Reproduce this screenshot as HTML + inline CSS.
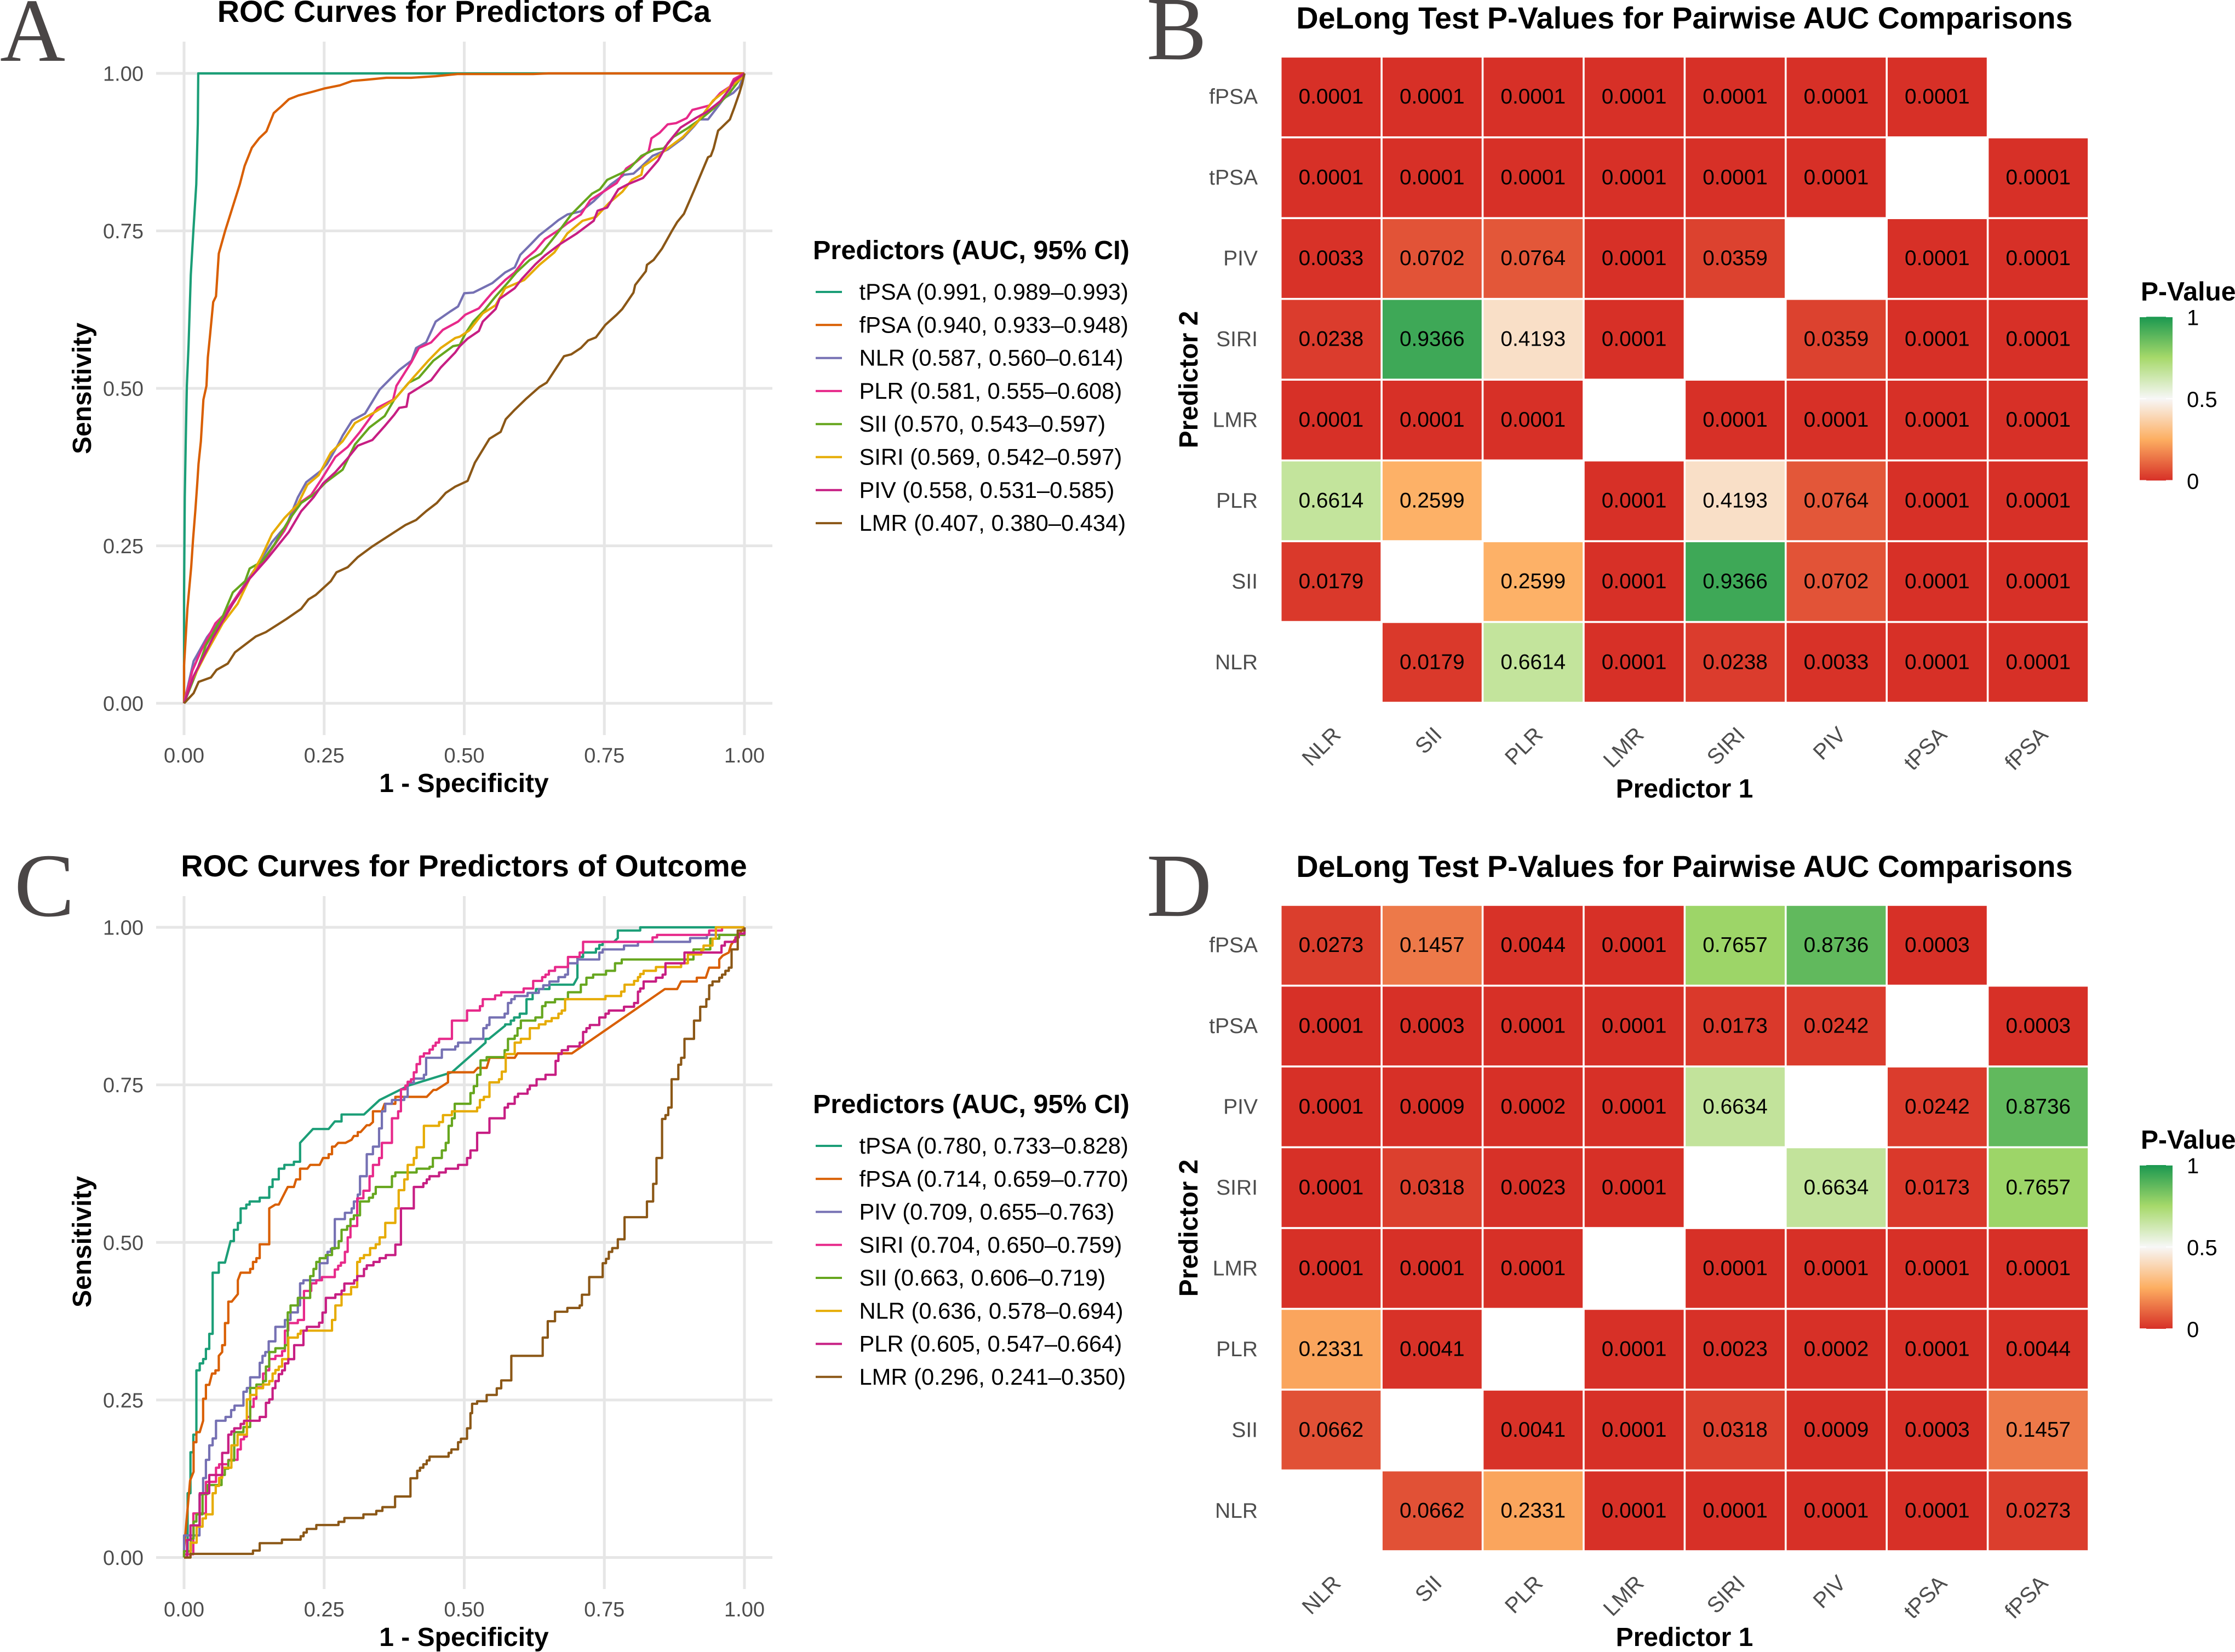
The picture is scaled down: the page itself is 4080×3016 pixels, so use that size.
<!DOCTYPE html>
<html lang="en">
<head>
<meta charset="utf-8">
<title>ROC curves and DeLong test p-values</title>
<style>
html,body{margin:0;padding:0;background:#fff;width:4080px;height:3016px;overflow:hidden}
svg{display:block;font-family:"Liberation Sans",Arial,sans-serif}
.panel-letter{font-family:"Liberation Serif",serif;font-size:165px;fill:#4a4646}
.title{font-weight:700;font-size:55.7px;fill:#000;text-anchor:middle}
.axis-title{font-weight:700;font-size:48px;fill:#000;text-anchor:middle}
.legend-title{font-weight:700;font-size:48.6px;fill:#000}
</style>
</head>
<body>
<svg id="figure" xmlns="http://www.w3.org/2000/svg" width="4080" height="3016" viewBox="0 0 4080 3016">
  <defs>
    <linearGradient id="pGradient" x1="0" y1="1" x2="0" y2="0"></linearGradient>
  </defs>
  <rect x="0" y="0" width="4080" height="3016" fill="#fff"/>

  <text class="panel-letter" x="0" y="111">A</text>
  <text class="panel-letter" x="2093" y="108">B</text>
  <text class="panel-letter" x="26" y="1672">C</text>
  <text class="panel-letter" x="2093" y="1672">D</text>

  <text class="title" x="847" y="40">ROC Curves for Predictors of PCa</text>
  <text class="title" x="847" y="1600">ROC Curves for Predictors of Outcome</text>
  <text class="title" x="3075" y="52">DeLong Test P-Values for Pairwise AUC Comparisons</text>
  <text class="title" x="3075" y="1601">DeLong Test P-Values for Pairwise AUC Comparisons</text>

  <text class="axis-title" x="847" y="1446">1 - Specificity</text>
  <text class="axis-title" x="847" y="3005">1 - Specificity</text>
  <text class="axis-title" transform="translate(166 709) rotate(-90)">Sensitivity</text>
  <text class="axis-title" transform="translate(166 2267) rotate(-90)">Sensitivity</text>

  <text class="axis-title" x="3075" y="1456">Predictor 1</text>
  <text class="axis-title" x="3075" y="3005">Predictor 1</text>
  <text class="axis-title" transform="translate(2186 693) rotate(-90)">Predictor 2</text>
  <text class="axis-title" transform="translate(2186 2242) rotate(-90)">Predictor 2</text>

  <text class="legend-title" x="1484" y="473">Predictors (AUC, 95% CI)</text>
  <text class="legend-title" x="1484" y="2032">Predictors (AUC, 95% CI)</text>

  <g id="layer-a"></g>
  <g id="layer-c"></g>
  <g id="layer-b"></g>
  <g id="layer-d"></g>
</svg>

<script>
/* ---------- shared axis data ---------- */
const rocTicks = [0, 0.25, 0.5, 0.75, 1];
const rocTickLabels = ['0.00', '0.25', '0.50', '0.75', '1.00'];
const lineColors = ['#1B9E77', '#D95F02', '#7570B3', '#E7298A', '#66A61E', '#E6AB02', '#C71E83', '#8B5716'];

/* ---------- Panel A legend ---------- */
const aNames = ['tPSA', 'fPSA', 'NLR', 'PLR', 'SII', 'SIRI', 'PIV', 'LMR'];
const aLabels = ['tPSA (0.991, 0.989–0.993)', 'fPSA (0.940, 0.933–0.948)', 'NLR (0.587, 0.560–0.614)', 'PLR (0.581, 0.555–0.608)', 'SII (0.570, 0.543–0.597)', 'SIRI (0.569, 0.542–0.597)', 'PIV (0.558, 0.531–0.585)', 'LMR (0.407, 0.380–0.434)'];

/* ---------- Panel A series ---------- */
const aTpsaX = [0,0,.0013,.003,.005,.008,.012,.0166,.0218,.0245,.0253,1];
const aTpsaY = [0,.17,.327,.416,.504,.568,.68,.75,.824,.92,1,1];

const aFpsaX = [0,0,.006,.0127,.016,.02,.0236,.0258,.03,.0345,.04,.0424,.0463,.052,.057,.062,.0733,.0864,.0995,.108,.121,.134,.147,.16,.174,.187,.204,.23,.25,.278,.30,.326,.361,.405,.449,.488,.623,.65,1];
const aFpsaY = [0,.06,.15,.216,.26,.305,.349,.38,.416,.482,.504,.549,.584,.637,.646,.714,.75,.787,.824,.853,.882,.897,.908,.937,.948,.959,.965,.971,.976,.981,.988,.99,.993,.993,.9956,.999,.999,1,1];

const aNlrX = [0,.017,.041,.069,.0956,.13,.157,.183,.203,.218,.244,.255,.275,.283,.30,.323,.349,.369,.384,.406,.414,.432,.449,.475,.489,.50,.516,.55,.573,.59,.60,.619,.634,.657,.668,.684,.708,.731,.748,.762,.785,.802,.816,.836,.863,.89,.91,.92,.935,.954,.964,.98,.991,1];
const aNlrY = [0,.067,.105,.138,.172,.218,.256,.283,.327,.351,.369,.38,.411,.425,.449,.46,.498,.516,.529,.544,.564,.573,.606,.622,.63,.651,.652,.667,.684,.692,.712,.729,.743,.759,.767,.776,.781,.797,.812,.824,.839,.841,.852,.869,.879,.897,.916,.927,.927,.949,.961,.969,.979,1];

const aPlrX = [0,.015,.03,.056,.074,.0956,.122,.144,.179,.203,.227,.244,.27,.292,.314,.345,.373,.379,.406,.419,.441,.462,.489,.502,.526,.55,.573,.59,.607,.627,.644,.668,.684,.708,.725,.748,.772,.789,.806,.829,.834,.849,.863,.878,.897,.907,.937,.957,.974,.981,1];
const aPlrY = [0,.052,.083,.127,.143,.172,.205,.229,.274,.316,.331,.354,.391,.407,.431,.469,.482,.504,.542,.564,.573,.593,.606,.617,.627,.652,.672,.684,.704,.719,.737,.751,.762,.776,.799,.812,.826,.849,.859,.876,.897,.906,.919,.921,.929,.942,.949,.969,.979,.991,1];

const aSiiX = [0,.021,.039,.069,.087,.109,.117,.139,.161,.187,.209,.231,.253,.283,.305,.331,.358,.375,.401,.419,.445,.48,.492,.502,.516,.536,.556,.576,.593,.617,.637,.657,.671,.691,.711,.728,.742,.755,.779,.795,.816,.839,.856,.873,.897,.924,.947,.971,.988,1];
const aSiiY = [0,.047,.092,.138,.176,.194,.214,.225,.252,.291,.318,.331,.351,.371,.411,.438,.456,.482,.509,.517,.544,.567,.569,.587,.606,.624,.646,.666,.684,.704,.714,.736,.752,.776,.794,.809,.816,.831,.841,.849,.869,.879,.881,.899,.912,.929,.946,.966,.986,1];

const aSiriX = [0,.013,.039,.069,.0956,.117,.139,.157,.179,.203,.22,.24,.262,.283,.305,.34,.375,.41,.436,.458,.484,.492,.509,.533,.556,.573,.607,.634,.661,.684,.711,.735,.758,.782,.799,.816,.819,.846,.86,.89,.917,.944,.971,.997,1];
const aSiriY = [0,.034,.079,.127,.158,.198,.234,.269,.294,.316,.347,.362,.398,.416,.445,.462,.482,.518,.544,.564,.58,.582,.592,.619,.632,.659,.672,.696,.716,.746,.766,.772,.794,.812,.831,.839,.852,.869,.879,.899,.924,.957,.976,.994,1];

const aPivX = [0,.017,.052,.087,.117,.148,.187,.209,.231,.248,.27,.292,.31,.336,.358,.375,.384,.397,.401,.441,.458,.484,.492,.506,.526,.533,.556,.563,.59,.603,.627,.644,.671,.701,.731,.738,.755,.775,.792,.819,.846,.863,.886,.913,.933,.957,.974,.981,1];
const aPivY = [0,.043,.105,.158,.198,.229,.272,.305,.327,.349,.367,.389,.409,.418,.44,.458,.469,.471,.491,.513,.533,.557,.567,.579,.591,.606,.626,.642,.659,.674,.697,.711,.729,.746,.766,.782,.787,.816,.824,.834,.862,.889,.914,.929,.939,.956,.976,.987,1];

const aLmrX = [0,.017,.026,.048,.058,.078,.091,.128,.146,.183,.209,.222,.235,.262,.272,.292,.31,.336,.395,.414,.432,.451,.467,.484,.506,.519,.545,.565,.574,.589,.611,.634,.647,.678,.691,.708,.721,.735,.752,.772,.782,.802,.805,.824,.826,.838,.853,.87,.88,.892,.91,.935,.94,.945,.953,.959,.974,.982,.991,.996,1];
const aLmrY = [0,.016,.034,.041,.053,.063,.081,.106,.113,.134,.15,.165,.172,.194,.208,.216,.232,.249,.283,.291,.305,.318,.334,.344,.353,.382,.42,.431,.451,.465,.484,.502,.509,.551,.554,.564,.576,.581,.601,.617,.626,.652,.664,.686,.696,.704,.722,.749,.764,.777,.814,.867,.869,.881,.909,.914,.927,.946,.969,.984,1];

/* ---------- Panel C legend ---------- */
const cNames = ['tPSA', 'fPSA', 'PIV', 'SIRI', 'SII', 'NLR', 'PLR', 'LMR'];
const cLabels = ['tPSA (0.780, 0.733–0.828)', 'fPSA (0.714, 0.659–0.770)', 'PIV (0.709, 0.655–0.763)', 'SIRI (0.704, 0.650–0.759)', 'SII (0.663, 0.606–0.719)', 'NLR (0.636, 0.578–0.694)', 'PLR (0.605, 0.547–0.664)', 'LMR (0.296, 0.241–0.350)'];

/* ---------- Panel C series: each point ends a plateau (rise, then run);
   a null entry means the next point is joined by a straight slanted segment ---------- */
const cTpsaX = [0,.0064,.0114,.0165,.022,.028,.034,.039,.045,.051,.057,.062,.073,null,.083,.089,.096,.101,.111,.117,.135,.152,.158,.169,.179,.196,.207,.207,null,.23,.258,null,.269,.281,.292,.321,null,.349,null,.401,null,.478,null,.538,.544,null,.573,.583,.589,.599,.611,.611,.622,.628,.652,.695,null,.702,.702,.712,.735,.741,.747,null,.747,.767,null,.774,.774,.814,1];
const cTpsaY = [0,.005,.102,.167,.195,.297,.308,.315,.331,.355,.452,.452,.468,null,.502,.502,.52,.531,.554,.56,.565,.571,.588,.6,.617,.623,.628,.658,null,.68,.68,null,.692,.692,.703,.703,null,.726,null,.749,null,.77,null,.817,.823,null,.844,.846,.852,.857,.863,.886,.886,.896,.902,.909,null,.92,.953,.953,.96,.966,.972,null,.977,.977,null,.983,.995,.995,1];

const cFpsaX = [0,0,null,.0108,null,.017,.017,.022,.028,null,.034,.039,.045,null,.05,.056,.062,.062,null,.068,.073,.079,.085,null,.096,.096,null,.101,.118,.123,.129,.135,.135,.152,.152,null,.163,.169,null,.185,.196,null,.2,.207,.207,.22,null,.225,.242,null,.248,.258,.264,.264,.269,null,.275,.288,null,.299,null,.303,.31,.315,null,.326,.331,null,.337,.337,.353,null,.358,.377,.39,.433,null,.445,.45,null,.471,.471,.517,null,.524,.54,null,.545,.59,null,.595,.692,null,.858,.88,null,.887,.915,.915,.931,null,.937,.955,.955,null,.961,null,.972,null,.976,null,.984,null,1];
const cFpsaY = [0,.014,null,.122,null,.136,.183,.183,.199,null,.217,.252,.274,null,.292,.292,.297,.32,null,.326,.337,.372,.406,null,.418,.44,null,.452,.452,.458,.469,.475,.497,.497,.554,null,.56,.56,null,.588,.588,null,.6,.6,.617,.617,null,.623,.623,null,.634,.634,.64,.652,.652,null,.658,.658,null,.663,null,.669,.669,.675,null,.686,.686,null,.691,.708,.708,null,.72,.72,.731,.731,null,.742,.742,null,.754,.77,.77,null,.777,.777,null,.792,.793,null,.8,.8,null,.902,.902,null,.914,.914,.92,.92,null,.936,.936,.949,null,.955,null,.96,null,.972,null,.982,null,1];

const cPivX = [0,.0276,.034,.039,.045,.051,.057,.074,.084,.09,.106,.112,.118,.135,.14,.145,.151,.163,.18,.19,.203,.207,.213,.238,.242,.256,.262,.269,.287,.299,.303,.31,.314,.326,.337,.348,.353,.359,.371,.393,.399,.41,.428,.432,.46,.484,.489,.511,.534,.54,.545,.572,.578,.584,.59,.613,.633,.641,.652,.668,.68,.685,.702,.741,.747,.785,.81,.903,.933,1,1];
const cPivY = [0,.035,.10,.126,.155,.178,.189,.217,.223,.234,.241,.263,.269,.286,.309,.32,.326,.343,.366,.377,.389,.4,.435,.44,.44,.467,.485,.49,.537,.547,.554,.565,.576,.605,.64,.652,.681,.708,.72,.726,.731,.753,.76,.766,.793,.806,.811,.817,.823,.84,.845,.857,.863,.88,.886,.891,.896,.902,.908,.914,.921,.925,.943,.949,.96,.965,.971,.977,.983,.988,1];

const cSiriX = [0,.0165,.0165,.039,.057,.0626,.079,.0955,.1013,.107,.112,.118,.124,.129,.141,.146,.152,.163,.175,.18,.186,.203,.214,.227,.236,.246,.269,.275,.28,.287,.292,.297,.309,.309,.32,.331,.337,.348,.353,.371,.382,.387,.395,.399,.405,.41,.415,.421,.428,.438,.444,.449,.455,.478,.505,.528,.533,.555,.566,.606,.623,.639,.645,.651,.662,.685,.706,.712,.836,.844,.937,.96,1];
const cSiriY = [0,.005,.03,.07,.12,.1425,.148,.155,.1715,.1876,.192,.223,.239,.252,.27,.292,.297,.315,.32,.3275,.36,.372,.377,.423,.435,.44,.445,.457,.463,.468,.485,.508,.526,.554,.57,.582,.605,.623,.634,.658,.697,.708,.743,.749,.755,.759,.77,.783,.795,.8,.806,.812,.817,.823,.852,.868,.875,.886,.892,.897,.903,.915,.921,.925,.931,.937,.953,.96,.977,.984,.988,.995,1];

const cSiiX = [0,.012,.017,.022,.033,.042,.067,.0727,.079,.0895,.106,.118,.129,.141,.146,.152,.163,.18,.185,.19,.203,.225,.231,.236,.242,.253,.264,.276,.281,.291,.297,.303,.314,.33,.337,.342,.371,.377,.415,.438,.444,.46,.467,.472,.478,.483,.511,.517,.523,.529,.54,.572,.578,.59,.595,.601,.627,.639,.645,.662,.685,.708,.718,.73,.753,.769,.781,.909,.939,.955,1,1];
const cSiiY = [0,.01,.03,.057,.0685,.1007,.115,.131,.141,.154,.199,.207,.269,.2745,.28,.303,.326,.332,.337,.389,.4,.412,.4466,.458,.469,.475,.48,.491,.502,.52,.526,.537,.543,.565,.571,.577,.588,.605,.611,.617,.62,.634,.646,.658,.685,.697,.72,.737,.748,.766,.789,.794,.805,.823,.828,.84,.852,.857,.875,.881,.886,.897,.909,.92,.925,.931,.943,.949,.965,.982,.988,1];

const cNlrX = [0,.0114,.0225,.033,.039,.051,.0565,.0626,.068,.0845,.0955,.106,.112,.118,.129,.141,.152,.158,.163,.169,.175,.186,.203,.208,.264,.27,.281,.298,.309,.314,.321,.332,.342,.349,.359,.377,.383,.393,.399,.41,.415,.428,.455,.462,.478,.523,.528,.535,.545,.562,.567,.574,.59,.601,.617,.633,.645,.656,.668,.674,.68,.752,.78,.786,.803,.81,.814,.82,.842,.887,.899,.923,.927,.943,.949,1];
const cNlrY = [0,0,.0235,.049,.062,.0685,.102,.1136,.1264,.1425,.178,.195,.195,.251,.258,.2687,.2745,.28,.292,.2976,.303,.3147,.349,.355,.36,.377,.4,.4176,.429,.469,.475,.48,.491,.497,.508,.531,.554,.583,.6,.623,.634,.651,.685,.691,.702,.708,.714,.726,.731,.754,.759,.771,.799,.817,.823,.84,.846,.851,.856,.863,.868,.886,.891,.898,.909,.915,.921,.926,.931,.937,.943,.957,.964,.971,.982,1];

const cPlrX = [0,.0054,.0114,.028,.045,.068,.079,.0845,.0895,.101,.107,.135,.146,.152,.158,.163,.169,.175,.18,.186,.1965,.213,.219,.241,.247,.253,.27,.281,.286,.3035,.309,.321,.326,.338,.349,.36,.377,.387,.41,.427,.433,.438,.455,.467,.489,.505,.511,.523,.545,.572,.578,.59,.596,.613,.617,.629,.645,.663,.668,.674,.685,.706,.712,.718,.724,.741,.752,.758,.785,.803,.81,.814,.82,.842,.854,.859,.893,.959,.965,.984,.99,1,1];
const cPlrY = [0,0,.028,.051,.102,.131,.166,.195,.2,.205,.212,.217,.223,.2455,.251,.2687,.28,.291,.297,.308,.3147,.337,.36,.366,.3726,.3887,.412,.4176,.4234,.4347,.44,.4466,.458,.4636,.469,.475,.48,.4965,.554,.588,.594,.6,.605,.611,.617,.623,.634,.646,.674,.697,.714,.72,.731,.736,.743,.749,.759,.766,.788,.799,.805,.811,.817,.834,.84,.845,.857,.863,.868,.874,.88,.898,.903,.914,.92,.925,.943,.96,.971,.977,.984,.99,1];

const cLmrX = [0,.0114,.123,.135,.1746,.208,.2133,.219,.236,.2756,.286,.32,.343,.354,.3765,.404,.416,.421,.427,.433,.438,.472,.477,.489,.494,.505,.511,.514,.523,.54,.558,.566,.584,.636,.64,.649,.662,.684,.706,.71,.723,.747,.753,.758,.764,.774,.786,.826,.837,.843,.853,.859,.864,.87,.882,.887,.893,.91,.921,.932,.937,.943,.955,.96,.966,.972,.977,.988,1,1];
const cLmrY = [0,0,.0058,.011,.0228,.0283,.0338,.0396,.0454,.0515,.0566,.0627,.0685,.074,.08,.0968,.1258,.1377,.1425,.148,.154,.16,.166,.1715,.183,.1885,.205,.229,.244,.248,.258,.2685,.281,.32,.32,.349,.375,.39,.396,.4,.417,.445,.467,.474,.485,.491,.505,.54,.565,.593,.634,.696,.702,.714,.759,.782,.793,.823,.852,.874,.886,.908,.914,.92,.925,.931,.936,.965,.995,1];

/* ---------- Heatmap categories and p-values (top row to bottom row) ---------- */
const heatColumns = ['NLR', 'SII', 'PLR', 'LMR', 'SIRI', 'PIV', 'tPSA', 'fPSA'];
const heatRows = ['fPSA', 'tPSA', 'PIV', 'SIRI', 'LMR', 'PLR', 'SII', 'NLR'];

const bRowFpsa = [.0001,.0001,.0001,.0001,.0001,.0001,.0001,null];
const bRowTpsa = [.0001,.0001,.0001,.0001,.0001,.0001,null,.0001];
const bRowPiv  = [.0033,.0702,.0764,.0001,.0359,null,.0001,.0001];
const bRowSiri = [.0238,.9366,.4193,.0001,null,.0359,.0001,.0001];
const bRowLmr  = [.0001,.0001,.0001,null,.0001,.0001,.0001,.0001];
const bRowPlr  = [.6614,.2599,null,.0001,.4193,.0764,.0001,.0001];
const bRowSii  = [.0179,null,.2599,.0001,.9366,.0702,.0001,.0001];
const bRowNlr  = [null,.0179,.6614,.0001,.0238,.0033,.0001,.0001];

const dRowFpsa = [.0273,.1457,.0044,.0001,.7657,.8736,.0003,null];
const dRowTpsa = [.0001,.0003,.0001,.0001,.0173,.0242,null,.0003];
const dRowPiv  = [.0001,.0009,.0002,.0001,.6634,null,.0242,.8736];
const dRowSiri = [.0001,.0318,.0023,.0001,null,.6634,.0173,.7657];
const dRowLmr  = [.0001,.0001,.0001,null,.0001,.0001,.0001,.0001];
const dRowPlr  = [.2331,.0041,null,.0001,.0023,.0002,.0001,.0044];
const dRowSii  = [.0662,null,.0041,.0001,.0318,.0009,.0003,.1457];
const dRowNlr  = [null,.0662,.2331,.0001,.0001,.0001,.0001,.0273];

const colorStops = [0, 0.25, 0.5, 0.75, 1];
const colorValues = [[215,48,39],[253,174,97],[247,247,247],[166,217,106],[26,152,80]];
const colorbarTicks = [0, 0.5, 1];
const colorbarLabels = ['0', '0.5', '1'];

/* ---------- helpers ---------- */
const SVG_NS = 'http://www.w3.org/2000/svg';
function make(tag, parent, attrs, text) {
  const el = document.createElementNS(SVG_NS, tag);
  for (const k in attrs) el.setAttribute(k, attrs[k]);
  if (text !== undefined) el.textContent = text;
  parent.appendChild(el);
  return el;
}
function pColor(p) {
  let i = 0;
  while (i < colorStops.length - 2 && p > colorStops[i + 1]) i++;
  const t = (p - colorStops[i]) / (colorStops[i + 1] - colorStops[i]);
  const c = colorValues[i].map((v, k) => Math.round(v + (colorValues[i + 1][k] - v) * t));
  return 'rgb(' + c.join(',') + ')';
}
function seriesPath(xs, ys, stepped, sx, sy) {
  let d = '', cx = null, slant = !stepped;
  for (let i = 0; i < xs.length; i++) {
    if (xs[i] === null) { slant = true; continue; }
    const px = sx(xs[i]), py = sy(ys[i]);
    if (cx === null) d += 'M' + px.toFixed(1) + ' ' + py.toFixed(1);
    else if (slant) d += 'L' + px.toFixed(1) + ' ' + py.toFixed(1);
    else d += 'L' + cx.toFixed(1) + ' ' + py.toFixed(1) + 'L' + px.toFixed(1) + ' ' + py.toFixed(1);
    cx = px;
    slant = !stepped;
  }
  return d;
}

/* ---------- ROC panel ---------- */
function drawRoc(parentId, prefix, box, seriesX, seriesY, stepped, names, labels, legend) {
  const g = document.getElementById(parentId);
  const sx = v => box.x0 + (box.x1 - box.x0) * v;
  const sy = v => box.y0 + (box.y1 - box.y0) * v;
  rocTicks.forEach((t, i) => {
    const v = make('line', g, {x1: sx(t), x2: sx(t), y1: box.top, y2: box.bottom, stroke: '#e6e6e6', 'stroke-width': 5});
    
    
    const h = make('line', g, {x1: box.left, x2: box.right, y1: sy(t), y2: sy(t), stroke: '#e6e6e6', 'stroke-width': 5});
    
    
    const xl = make('text', g, {x: sx(t), y: box.bottom + 50, 'text-anchor': 'middle', 'font-size': 38, fill: '#4d4d4d'}, rocTickLabels[i]);
    
    
    const yl = make('text', g, {x: 262, y: sy(t) + 13.5, 'text-anchor': 'end', 'font-size': 38, fill: '#4d4d4d'}, rocTickLabels[i]);
    
    
  });
  seriesX.forEach((xs, i) => {
    const p = make('path', g, {d: seriesPath(xs, seriesY[i], stepped, sx, sy), fill: 'none', stroke: lineColors[i], 'stroke-width': 4.2, 'stroke-linejoin': 'round', 'stroke-linecap': 'butt'});
    
    
  });
  labels.forEach((txt, i) => {
    const yLine = legend.firstLine + legend.step * i;
    const key = make('line', g, {x1: 1489, x2: 1537, y1: yLine, y2: yLine, stroke: lineColors[i], 'stroke-width': 4});
    
    
    const lab = make('text', g, {x: 1568.5, y: yLine + 14, 'font-size': 41.7, fill: '#000'}, txt);
    
    
  });
}

drawRoc('layer-a', 'panel-a',
  {x0: 336, x1: 1359, y0: 1284, y1: 134, left: 285, right: 1410, top: 76, bottom: 1342},
  [aTpsaX, aFpsaX, aNlrX, aPlrX, aSiiX, aSiriX, aPivX, aLmrX],
  [aTpsaY, aFpsaY, aNlrY, aPlrY, aSiiY, aSiriY, aPivY, aLmrY],
  false, aNames, aLabels, {firstLine: 533, step: 60.3});

drawRoc('layer-c', 'panel-c',
  {x0: 336, x1: 1359, y0: 2843.5, y1: 1693, left: 285, right: 1410, top: 1636, bottom: 2901},
  [cTpsaX, cFpsaX, cPivX, cSiriX, cSiiX, cNlrX, cPlrX, cLmrX],
  [cTpsaY, cFpsaY, cPivY, cSiriY, cSiiY, cNlrY, cPlrY, cLmrY],
  true, cNames, cLabels, {firstLine: 2092, step: 60.25});

/* ---------- colorbar gradient ---------- */
const grad = document.getElementById('pGradient');
colorStops.forEach(s => {
  const st = document.createElementNS(SVG_NS, 'stop');
  st.setAttribute('offset', s);
  st.setAttribute('stop-color', pColor(s));
  grad.appendChild(st);
});

/* ---------- heatmap panel ---------- */
function drawHeatmap(parentId, prefix, box, rows) {
  const g = document.getElementById(parentId);
  const cw = (box.right - box.left) / heatColumns.length;
  const ch = (box.bottom - box.top) / heatRows.length;
  const colX = i => box.left + cw * i;
  const rowY = j => box.top + ch * j;
  rows.forEach((row, j) => {
    row.forEach((p, i) => {
      if (p === null) return;
      const r = make('rect', g, {x: colX(i) + 1.8, y: rowY(j) + 1.8, width: cw - 3.6, height: ch - 3.6, fill: pColor(p)});
      
      
      const t = make('text', g, {x: colX(i) + cw / 2, y: rowY(j) + ch / 2 + 12, 'text-anchor': 'middle', 'font-size': 38.8, fill: '#000'}, p.toFixed(4));
      
      
    });
  });
  heatRows.forEach((name, j) => {
    const t = make('text', g, {x: 2296, y: rowY(j) + ch / 2 + 12.5, 'text-anchor': 'end', 'font-size': 39, fill: '#4d4d4d'}, name);
    
    
  });
  heatColumns.forEach((name, i) => {
    const ex = colX(i) + cw / 2 + 20, ey = box.bottom + 61;
    const t = make('text', g, {transform: 'translate(' + ex + ' ' + ey + ') rotate(-45)', 'text-anchor': 'end', 'font-size': 40, fill: '#4d4d4d'}, name);
    
    
  });

  const barTop = box.top + 475, barBottom = box.top + 774;
  const barY = v => barBottom + (barTop - barBottom) * v;
  const title = make('text', g, {x: 3908, y: box.top + 445, 'font-size': 48, 'font-weight': 700, fill: '#000'}, 'P-Value');
  
  
  const bar = make('rect', g, {x: 3906, y: barTop, width: 60, height: barBottom - barTop, fill: 'url(#pGradient)'});
  
  
  colorbarTicks.forEach((v, i) => {
    [[3906, 3918], [3954, 3966]].forEach(seg => {
      const tk = make('line', g, {x1: seg[0], x2: seg[1], y1: barY(v), y2: barY(v), stroke: '#fff', 'stroke-width': 1.6});
      
      
    });
    const lab = make('text', g, {x: 3992, y: barY(v) + 15, 'font-size': 40, fill: '#000'}, colorbarLabels[i]);
    
    
  });
}

drawHeatmap('layer-b', 'panel-b', {left: 2337.7, right: 3813, top: 103.3, bottom: 1283},
  [bRowFpsa, bRowTpsa, bRowPiv, bRowSiri, bRowLmr, bRowPlr, bRowSii, bRowNlr]);
drawHeatmap('layer-d', 'panel-d', {left: 2337.7, right: 3813, top: 1652, bottom: 2832},
  [dRowFpsa, dRowTpsa, dRowPiv, dRowSiri, dRowLmr, dRowPlr, dRowSii, dRowNlr]);
</script>
</body>
</html>
